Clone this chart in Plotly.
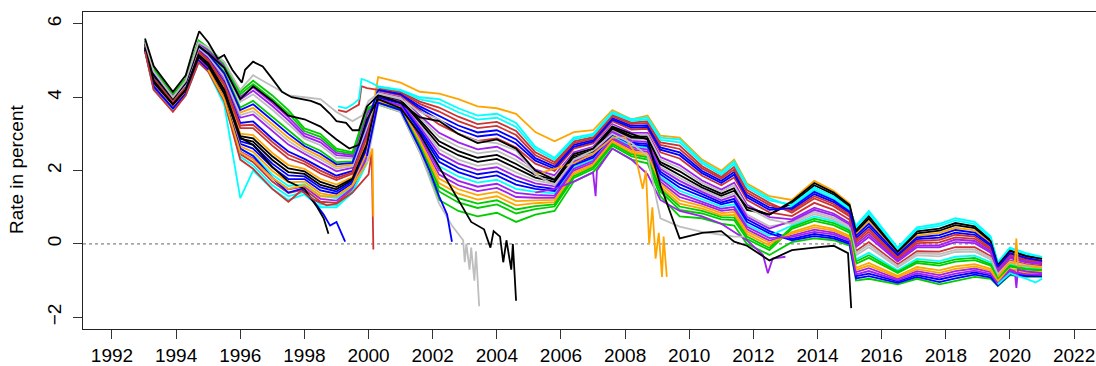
import plotly.graph_objects as go

# ---- colours (R-style palette used for the yield lines) ----
BLACK = "#000000"
RED = "#CD3333"
GREEN = "#00CD00"
BLUE = "#0000FF"
CYAN = "#00FFFF"
PURPLE = "#A020F0"
ORANGE = "#FFA500"
GRAY = "#BEBEBE"

# ---- common date grid for the long-running series (decimal years) ----
years = [1993.03, 1993.3, 1993.9, 1994.3, 1994.7, 1995.0, 1995.5, 1996.0, 1996.4, 1997.0,
         1997.5, 1998.0, 1998.5, 1999.0, 1999.5, 1999.95, 2000.3, 2001.0, 2001.6, 2002.2,
         2002.8, 2003.4, 2004.0, 2004.6, 2005.2, 2005.8, 2006.4, 2007.0, 2007.6, 2008.2,
         2008.7, 2009.1, 2009.7, 2010.4, 2011.0, 2011.4, 2011.8, 2012.5, 2013.2, 2013.9,
         2014.5, 2015.0, 2015.2, 2015.6, 2016.5, 2017.1, 2017.8, 2018.3, 2018.9, 2019.4,
         2019.62, 2020.0, 2020.5, 2021.0]

s01_orange = [5.37, 4.43, 3.82, 4.22, 5.18, 4.95, 4.25, 3.01, 2.97, 2.48, 2.15, 2.05, 1.77, 1.62, 1.82, 2.78,
              4.55, 4.40, 4.15, 4.10, 3.95, 3.75, 3.70, 3.55, 3.05, 2.80, 3.05, 3.10, 3.65, 3.40, 3.50, 2.95,
              2.90, 2.30, 2.00, 2.30, 1.65, 1.30,
              1.20, 1.72, 1.45, 1.10,
              0.27, 0.62, -0.25, 0.23, 0.30, 0.44, 0.37, 0.02, -0.60, -0.22, -0.35, -0.43]
s02_cyan = [5.25, 4.20, 3.65, 4.05, 4.95, 4.70, 3.80, 1.25, 2.00, 1.50, 1.20, 1.35, 1.00, 1.00, 1.40, 2.20,
            4.30, 4.20, 4.00, 3.95, 3.70, 3.50, 3.55, 3.30, 2.65, 2.35, 2.90, 3.00, 3.60, 3.40, 3.45, 2.90,
            2.85, 2.25, 1.95, 2.25, 1.60, 1.25,
            1.02, 1.48, 1.24, 0.92,
            0.50, 0.90, -0.10, 0.45, 0.55, 0.70, 0.60, 0.20, -0.50, -0.10, -0.25, -0.35]
s03_red = [5.27, 4.25, 3.68, 4.08, 5.00, 4.75, 3.89, 2.45, 2.23, 1.70, 1.39, 1.49, 1.15, 1.12, 1.48, 2.32,
           4.26, 4.15, 3.88, 3.72, 3.47, 3.27, 3.33, 3.08, 2.50, 2.23, 2.80, 2.91, 3.52, 3.31, 3.35, 2.77,
           2.68, 2.12, 1.83, 2.10, 1.47, 1.12,
           0.85, 1.24, 1.03, 0.75,
           0.04, 0.33, -0.41, 0.02, 0.04, 0.18, 0.14, -0.15, -0.70, -0.33, -0.45, -0.52]
s04_blue = [5.32, 4.34, 3.75, 4.15, 5.09, 4.85, 4.07, 2.73, 2.60, 2.09, 1.77, 1.77, 1.46, 1.37, 1.65, 2.55,
            4.22, 4.10, 3.75, 3.49, 3.23, 3.04, 3.10, 2.85, 2.34, 2.11, 2.70, 2.83, 3.43, 3.22, 3.24, 2.63,
            2.50, 1.99, 1.72, 1.96, 1.33, 0.99,
            0.94, 1.36, 1.14, 0.84,
            0.16, 0.47, -0.33, 0.13, 0.17, 0.31, 0.25, -0.06, -0.65, -0.27, -0.40, -0.48]
s05_purple = [5.44, 4.57, 3.93, 4.33, 5.32, 5.10, 4.51, 3.44, 3.53, 3.07, 2.71, 2.46, 2.23, 1.98, 2.08, 3.13,
              4.13, 4.00, 3.50, 3.03, 2.77, 2.58, 2.65, 2.40, 2.03, 1.87, 2.50, 2.65, 3.27, 3.03, 3.03, 2.37,
              2.15, 1.73, 1.48, 1.67, 1.07, 0.73,
              0.67, 0.99, 0.83, 0.57,
              -0.08, 0.19, -0.48, -0.09, -0.09, 0.05, 0.02, -0.24, -0.75, -0.39, -0.50, -0.56]
s06_green = [5.55, 4.80, 4.10, 4.50, 5.55, 5.35, 4.95, 4.15, 4.45, 4.05, 3.65, 3.15, 3.00, 2.60, 2.50, 3.70,
             3.84, 3.65, 2.63, 1.43, 1.13, 0.98, 1.08, 0.83, 0.95, 1.02, 1.80, 2.04, 2.68, 2.39, 2.30, 1.43,
             0.93, 0.83, 0.67, 0.65, 0.13, -0.17,
             0.41, 0.63, 0.51, 0.31,
             -0.54, -0.38, -0.79, -0.52, -0.59, -0.48, -0.44, -0.59, -0.95, -0.62, -0.70, -0.73]
s07_gray = [5.50, 4.71, 4.03, 4.43, 5.46, 5.25, 4.77, 3.87, 4.08, 3.66, 3.27, 2.87, 2.69, 2.35, 2.33, 3.47,
            4.05, 3.90, 3.25, 2.58, 2.30, 2.13, 2.20, 1.95, 1.73, 1.63, 2.30, 2.48, 3.10, 2.85, 2.83, 2.10,
            1.80, 1.48, 1.25, 1.38, 0.80, 0.48,
            0.58, 0.87, 0.72, 0.48,
            -0.31, -0.09, -0.64, -0.31, -0.34, -0.22, -0.21, -0.42, -0.85, -0.50, -0.60, -0.65]
s08_black = [5.34, 4.39, 3.79, 4.19, 5.14, 4.90, 4.16, 2.87, 2.79, 2.29, 1.96, 1.91, 1.61, 1.49, 1.74, 2.67,
             4.09, 3.95, 3.38, 2.80, 2.53, 2.35, 2.43, 2.18, 1.88, 1.75, 2.40, 2.56, 3.18, 2.94, 2.93, 2.23,
             1.98, 1.60, 1.37, 1.52, 0.93, 0.80,
             1.11, 1.60, 1.35, 1.01,
             0.39, 0.76, -0.18, 0.34, 0.42, 0.57, 0.48, 0.11, -0.55, -0.16, -0.30, -0.39]
s09_red = [5.39, 4.48, 3.86, 4.26, 5.23, 5.00, 4.33, 3.16, 3.16, 2.68, 2.33, 2.18, 1.92, 1.74, 1.91, 2.90,
           4.18, 4.05, 3.63, 3.26, 3.00, 2.81, 2.88, 2.63, 2.19, 1.99, 2.60, 2.74, 3.35, 3.12, 3.14, 2.50,
           2.33, 1.86, 1.60, 1.81, 1.20, 0.86,
           0.76, 1.12, 0.93, 0.66,
           -0.19, 0.05, -0.56, -0.20, -0.21, -0.09, -0.09, -0.33, -0.80, -0.45, -0.55, -0.60]
s10_blue = [5.41, 4.52, 3.89, 4.29, 5.27, 5.05, 4.42, 3.30, 3.34, 2.87, 2.52, 2.32, 2.08, 1.86, 1.99, 3.01,
            4.01, 3.85, 3.13, 2.35, 2.07, 1.90, 1.98, 1.73, 1.57, 1.50, 2.20, 2.39, 3.02, 2.76, 2.72, 1.97,
            1.63, 1.35, 1.13, 1.23, 0.67, 0.35,
            0.14, 0.27, 0.20, 0.04,
            -0.88, -0.81, -1.02, -0.85, -0.97, -0.87, -0.78, -0.86, -1.10, -0.79, -0.85, -0.86]
s11_purple = [5.53, 4.75, 4.07, 4.47, 5.50, 5.30, 4.86, 4.01, 4.27, 3.85, 3.46, 3.01, 2.85, 2.48, 2.42, 3.59,
              3.93, 3.75, 2.88, 1.89, 1.60, 1.44, 1.53, 1.28, 1.26, 1.26, 2.00, 2.21, 2.85, 2.58, 2.51, 1.70,
              1.28, 1.09, 0.90, 0.94, 0.40, 0.09,
              0.23, 0.39, 0.31, 0.13,
              -0.77, -0.66, -0.95, -0.74, -0.85, -0.74, -0.67, -0.77, -1.05, -0.73, -0.80, -0.82]
s12_green = [5.48, 4.66, 4.00, 4.40, 5.41, 5.20, 4.69, 3.72, 3.90, 3.46, 3.09, 2.74, 2.54, 2.23, 2.25, 3.36,
             3.80, 3.60, 2.50, 1.20, 0.90, 0.75, 0.85, 0.60, 0.80, 0.90, 1.70, 1.95, 2.60, 2.30, 2.20, 1.30,
             0.75, 0.70, 0.55, 0.50, 0.00, -0.30,
             0.05, 0.15, 0.10, -0.05,
             -1.00, -0.95, -1.10, -0.95, -1.10, -1.00, -0.90, -0.95, -1.15, -0.85, -0.90, -0.90]
s13_cyan = [5.30, 4.29, 3.72, 4.12, 5.04, 4.80, 3.98, 2.59, 2.42, 1.89, 1.58, 1.63, 1.31, 1.25, 1.57, 2.44,
            3.97, 3.80, 3.00, 2.12, 1.84, 1.67, 1.75, 1.50, 1.42, 1.38, 2.10, 2.30, 2.93, 2.67, 2.62, 1.83,
            1.45, 1.22, 1.02, 1.08, 0.53, 0.22,
            0.50, 0.75, 0.62, 0.40,
            -0.42, -0.24, -0.72, -0.41, -0.47, -0.35, -0.32, -0.50, -0.90, -0.56, -0.65, -0.69]
s14_orange = [5.46, 4.62, 3.96, 4.36, 5.37, 5.15, 4.60, 3.58, 3.71, 3.27, 2.90, 2.60, 2.38, 2.11, 2.16, 3.24,
              3.88, 3.70, 2.75, 1.66, 1.37, 1.21, 1.30, 1.05, 1.11, 1.14, 1.90, 2.13, 2.77, 2.48, 2.41, 1.57,
              1.10, 0.96, 0.78, 0.79, 0.27, -0.04,
              0.32, 0.51, 0.41, 0.22,
              -0.65, -0.52, -0.87, -0.63, -0.72, -0.61, -0.55, -0.68, -1.00, -0.68, -0.75, -0.77]
s15_red = [5.40, 4.50, 3.88, 4.28, 5.25, 5.03, 4.38, 3.23, 3.25, 2.78, 2.43, 2.25, 2.00, 1.80, 1.95, 2.96,
           4.24, 4.13, 3.82, 3.61, 3.35, 3.16, 3.22, 2.97, 2.42, 2.17, 2.75, 2.87, 3.48, 3.27, 3.30, 2.70,
           2.59, 2.06, 1.78, 2.03, 1.40, 1.06,
           0.90, 1.30, 1.09, 0.80,
           0.10, 0.40, -0.37, 0.08, 0.11, 0.25, 0.20, -0.11, -0.68, -0.30, -0.43, -0.50]
s16_purple = [5.52, 4.73, 4.05, 4.45, 5.48, 5.28, 4.82, 3.94, 4.18, 3.76, 3.37, 2.94, 2.77, 2.42, 2.38, 3.53,
              4.03, 3.88, 3.19, 2.47, 2.19, 2.02, 2.09, 1.84, 1.65, 1.57, 2.25, 2.44, 3.06, 2.81, 2.78, 2.04,
              1.72, 1.42, 1.19, 1.31, 0.74, 0.42,
              0.63, 0.93, 0.78, 0.53,
              -0.02, 0.26, -0.45, -0.04, -0.03, 0.12, 0.08, -0.20, -0.73, -0.36, -0.48, -0.54]
s17_gray = [5.45, 4.60, 3.95, 4.35, 5.35, 5.13, 4.56, 3.51, 3.62, 3.17, 2.81, 2.53, 2.31, 2.05, 2.12, 3.19,
            4.11, 3.98, 3.44, 2.92, 2.65, 2.47, 2.54, 2.29, 1.96, 1.81, 2.45, 2.61, 3.23, 2.99, 2.98, 2.30,
            2.07, 1.67, 1.43, 1.60, 1.00, 0.67,
            0.54, 0.81, 0.67, 0.44,
            -0.25, -0.02, -0.60, -0.26, -0.28, -0.16, -0.15, -0.38, -0.83, -0.48, -0.58, -0.63]
s18_blue = [5.33, 4.37, 3.77, 4.17, 5.12, 4.88, 4.12, 2.80, 2.70, 2.19, 1.87, 1.84, 1.54, 1.43, 1.70, 2.61,
            3.99, 3.83, 3.07, 2.24, 1.96, 1.79, 1.87, 1.62, 1.50, 1.44, 2.15, 2.35, 2.98, 2.72, 2.67, 1.90,
            1.54, 1.29, 1.08, 1.16, 0.60, 0.29,
            0.10, 0.21, 0.15, 0.00,
            -0.94, -0.88, -1.06, -0.90, -1.04, -0.94, -0.84, -0.91, -1.13, -0.82, -0.88, -0.88]
s19_green = [5.54, 4.78, 4.09, 4.49, 5.53, 5.33, 4.91, 4.08, 4.36, 3.95, 3.56, 3.08, 2.92, 2.54, 2.46, 3.65,
             3.86, 3.68, 2.69, 1.55, 1.25, 1.10, 1.19, 0.94, 1.03, 1.08, 1.85, 2.09, 2.73, 2.44, 2.36, 1.50,
             1.02, 0.90, 0.73, 0.72, 0.20, -0.11,
             0.46, 0.69, 0.57, 0.36,
             -0.48, -0.31, -0.76, -0.47, -0.53, -0.42, -0.38, -0.55, -0.93, -0.59, -0.68, -0.71]
s20_orange = [5.31, 4.32, 3.74, 4.14, 5.07, 4.83, 4.03, 2.66, 2.51, 1.99, 1.68, 1.70, 1.38, 1.31, 1.61, 2.50,
              3.90, 3.73, 2.82, 1.78, 1.49, 1.33, 1.42, 1.17, 1.19, 1.20, 1.95, 2.17, 2.81, 2.53, 2.46, 1.64,
              1.19, 1.03, 0.84, 0.87, 0.34, 0.03,
              0.28, 0.45, 0.36, 0.18,
              -0.71, -0.59, -0.91, -0.69, -0.79, -0.68, -0.61, -0.73, -1.03, -0.71, -0.78, -0.80]
s21_cyan = [5.26, 4.23, 3.67, 4.07, 4.98, 4.73, 3.85, 2.38, 2.14, 1.60, 1.30, 1.42, 1.08, 1.06, 1.44, 2.26,
            4.28, 4.18, 3.94, 3.84, 3.59, 3.39, 3.44, 3.19, 2.58, 2.29, 2.85, 2.96, 3.56, 3.36, 3.40, 2.84,
            2.77, 2.19, 1.89, 2.18, 1.54, 1.19,
            1.07, 1.54, 1.30, 0.97,
            0.45, 0.83, -0.14, 0.40, 0.49, 0.64, 0.54, 0.16, -0.53, -0.13, -0.28, -0.37]
s22_black = [5.36, 4.41, 3.81, 4.21, 5.16, 4.93, 4.21, 2.94, 2.88, 2.39, 2.06, 1.98, 1.69, 1.55, 1.78, 2.73,
             4.07, 3.93, 3.32, 2.69, 2.42, 2.24, 2.32, 2.07, 1.81, 1.69, 2.35, 2.52, 3.14, 2.90, 2.88, 2.17,
             1.89, 1.54, 1.31, 1.45, 1.00, 0.80,
             1.16, 1.66, 1.40, 1.06,
             0.33, 0.69, -0.22, 0.29, 0.36, 0.51, 0.43, 0.07, -0.58, -0.19, -0.33, -0.41]
s23_purple = [5.29, 4.27, 3.70, 4.10, 5.02, 4.78, 3.94, 2.52, 2.33, 1.80, 1.49, 1.56, 1.23, 1.18, 1.53, 2.38,
              3.95, 3.78, 2.94, 2.01, 1.72, 1.56, 1.64, 1.39, 1.34, 1.32, 2.05, 2.26, 2.89, 2.63, 2.57, 1.77,
              1.37, 1.16, 0.96, 1.01, 0.47, 0.16,
              0.19, 0.33, 0.26, 0.09,
              -0.83, -0.74, -0.99, -0.80, -0.91, -0.81, -0.73, -0.82, -1.08, -0.76, -0.83, -0.84]
s24_blue = [5.47, 4.64, 3.98, 4.38, 5.39, 5.18, 4.65, 3.65, 3.81, 3.37, 3.00, 2.67, 2.46, 2.17, 2.21, 3.30,
            4.20, 4.08, 3.69, 3.38, 3.12, 2.93, 2.99, 2.74, 2.27, 2.05, 2.65, 2.79, 3.39, 3.17, 3.19, 2.57,
            2.42, 1.93, 1.66, 1.89, 1.27, 0.93,
            0.98, 1.42, 1.19, 0.88,
            0.22, 0.55, -0.29, 0.18, 0.24, 0.38, 0.31, -0.02, -0.63, -0.25, -0.38, -0.46]

# ---- series with their own date ranges ----
long_black_t = [1993.03, 1993.3, 1993.9, 1994.3, 1994.55, 1994.72, 1995.0, 1995.3, 1995.5, 1995.75,
                1996.05, 1996.15, 1996.4, 1996.7, 1997.0, 1997.3, 1997.6, 1997.9, 1998.2, 1998.5,
                1998.8, 1999.0, 1999.3, 1999.5, 1999.7, 1999.95, 2000.3, 2001.0, 2001.6, 2002.2,
                2002.8, 2003.4, 2004.0, 2004.6, 2005.2, 2005.8, 2006.4, 2007.0, 2007.6, 2008.2,
                2008.7, 2009.1, 2009.7, 2010.4, 2011.0, 2011.4, 2011.8, 2012.5, 2013.2, 2013.9,
                2014.5, 2014.95, 2015.05]
long_black_y = [5.6, 4.85, 4.15, 4.6, 5.35, 5.8, 5.5, 5.05, 5.15, 4.75,
                4.4, 4.75, 4.97, 4.84, 4.5, 4.15, 4.0, 3.95, 3.9, 3.8,
                3.55, 3.35, 3.3, 3.1, 3.1, 3.75, 4.05, 3.85, 3.45, 3.35,
                3.0, 2.75, 2.85, 2.6, 2.0, 1.75, 2.45, 2.6, 3.2, 3.0,
                2.85, 1.6, 0.15, 0.3, 0.35, 0.06, -0.05, -0.45, -0.17, -0.1,
                -0.05, -0.25, -1.75]

long_gray_t = [1993.03, 1993.3, 1993.9, 1994.3, 1994.7, 1995.0, 1995.5, 1996.0, 1996.4, 1997.0,
               1997.5, 1998.0, 1998.5, 1999.0, 1999.5, 1999.8, 2000.0, 2000.3, 2001.0, 2001.6,
               2002.2, 2002.8, 2003.4, 2004.0, 2004.6, 2005.2, 2005.8, 2006.4, 2007.0, 2007.6,
               2008.2, 2008.7, 2009.1, 2009.7, 2010.4, 2011.0, 2011.4, 2011.7]
long_gray_y = [5.5, 4.7, 4.0, 4.45, 5.5, 5.35, 4.95, 4.2, 4.6, 4.3,
               4.05, 4.0, 3.95, 3.6, 3.35, 3.5, 3.9, 4.1, 3.95, 3.6,
               3.4, 3.0, 2.8, 2.75, 2.55, 1.9, 1.6, 2.3, 2.55, 3.0,
               2.75, 2.4, 0.7, 0.47, 0.33, 0.25, 0.2, 0.2]

mid_black_t = [1993.03, 1993.3, 1993.9, 1994.3, 1994.7, 1995.0, 1995.5, 1996.0, 1996.4, 1997.0,
               1997.5, 1998.0, 1998.5, 1999.0, 1999.4, 1999.7, 1999.95, 2000.3, 2001.0, 2001.6,
               2002.2, 2002.8, 2003.2, 2003.6, 2003.8, 2003.9, 2004.1, 2004.2, 2004.3, 2004.45,
               2004.5, 2004.6]
mid_black_y = [5.45, 4.6, 3.95, 4.4, 5.4, 5.2, 4.8, 3.95, 4.3, 3.9,
               3.5, 3.4, 3.2, 2.85, 2.6, 2.7, 3.4, 3.95, 3.7, 3.0,
               2.1, 1.2, 0.6, 0.4, -0.1, 0.35, 0.2, -0.5, 0.1, -0.7,
               0.0, -1.55]

short_blue_t = [1993.03, 1993.3, 1993.9, 1994.3, 1994.7, 1995.0, 1995.5, 1996.0, 1996.4, 1997.0,
                1997.5, 1997.9, 1998.3, 1998.6, 1998.8, 1999.0, 1999.15, 1999.27]
short_blue_y = [5.3, 4.3, 3.7, 4.1, 5.0, 4.75, 3.95, 2.6, 2.4, 1.8,
                1.4, 1.5, 1.15, 0.8, 0.5, 0.6, 0.3, 0.06]

short_black_t = [1993.03, 1993.3, 1993.9, 1994.3, 1994.7, 1995.0, 1995.5, 1996.0, 1996.4, 1997.0,
                 1997.5, 1998.0, 1998.4, 1998.6, 1998.75]
short_black_y = [5.3, 4.45, 3.8, 4.2, 5.1, 4.85, 4.1, 2.9, 2.7, 2.1,
                 1.7, 1.5, 1.0, 0.7, 0.28]

short_red_t = [1993.03, 1993.3, 1993.9, 1994.3, 1994.7, 1995.0, 1995.5, 1996.0, 1996.4, 1997.0,
               1997.5, 1997.9, 1998.3, 1998.7, 1999.0, 1999.5, 1999.8, 2000.0, 2000.1, 2000.15]
short_red_y = [5.25, 4.2, 3.6, 4.05, 4.95, 4.7, 3.9, 2.3, 2.05, 1.5,
               1.15, 1.45, 1.2, 1.05, 1.1, 1.4, 1.7, 1.9, 2.5, -0.15]

short_orange_t = [1995.0, 1995.5, 1996.0, 1996.4, 1997.0, 1997.5, 1998.0, 1998.5, 1999.0, 1999.5,
                  1999.8, 2000.0, 2000.12, 2000.15]
short_orange_y = [4.75, 3.95, 2.5, 2.3, 1.8, 1.5, 1.6, 1.3, 1.3, 1.6,
                  2.0, 2.3, 2.6, 0.75]

new_red_t = [1999.05, 1999.3, 1999.5, 1999.7, 1999.78, 1999.95, 2000.3]
new_red_y = [3.65, 3.6, 3.7, 3.8, 4.3, 4.25, 4.2]
new_cyan_t = [1999.05, 1999.3, 1999.5, 1999.7, 1999.78, 1999.95, 2000.3]
new_cyan_y = [3.75, 3.7, 3.8, 3.95, 4.5, 4.45, 4.3]

dip_gray_t = [1999.95, 2000.3, 2001.0, 2001.6, 2002.2, 2002.6, 2002.95, 2003.0, 2003.05, 2003.15,
              2003.2, 2003.3, 2003.35, 2003.45]
dip_gray_y = [2.2, 3.8, 3.6, 2.5, 1.1, 0.5, 0.1, -0.5, 0.0, -0.7,
              -0.1, -1.0, -0.2, -1.7]

dip_blue_t = [1999.95, 2000.3, 2001.0, 2001.6, 2001.9, 2002.2, 2002.45, 2002.6]
dip_blue_y = [2.4, 3.85, 3.65, 2.6, 2.0, 1.3, 0.8, 0.06]

low_purple_t = [2005.2, 2005.8, 2006.4, 2007.0, 2007.08, 2007.12, 2007.6, 2008.2, 2008.7, 2009.1,
                2009.7, 2010.4, 2011.0, 2011.8, 2012.3, 2012.45, 2012.6, 2013.0]
low_purple_y = [1.4, 1.5, 1.7, 1.95, 1.3, 2.0, 2.6, 2.3, 1.9, 1.2,
                0.9, 0.75, 0.55, 0.1, -0.3, -0.8, -0.4, -0.35]

dip_orange_t = [2005.2, 2006.4, 2007.0, 2007.6, 2008.0, 2008.3, 2008.55, 2008.65, 2008.75, 2008.85,
                2008.95, 2009.05, 2009.15, 2009.2, 2009.3]
dip_orange_y = [1.9, 2.2, 2.45, 2.9, 2.9, 2.5, 1.5, 2.0, 0.0, 1.0,
                -0.4, 0.3, -0.9, 0.2, -0.9]

late_orange_t = [2019.62, 2020.0, 2020.15, 2020.2, 2020.25, 2020.5, 2021.0]
late_orange_y = [-0.9, -0.5, -0.55, 0.15, -0.6, -0.6, -0.65]
late_purple_t = [2019.62, 2020.0, 2020.15, 2020.2, 2020.25, 2020.5, 2021.0]
late_purple_y = [-1.1, -0.7, -0.75, -1.2, -0.7, -0.75, -0.8]
late_cyan_t = [2019.62, 2020.0, 2020.5, 2020.8, 2021.0]
late_cyan_y = [-1.1, -0.8, -0.95, -1.05, -0.95]

# ---- axis ticks ----
x_tick_years = list(range(1992, 2023, 2))
y_tick_vals = [-2, 0, 2, 4, 6]
y_tick_text = ["\u22122", "0", "2", "4", "6"]

lines = [
    (years, s01_orange, ORANGE), (years, s02_cyan, CYAN), (years, s03_red, RED),
    (years, s04_blue, BLUE), (years, s05_purple, PURPLE), (years, s06_green, GREEN),
    (years, s07_gray, GRAY), (years, s08_black, BLACK), (years, s09_red, RED),
    (years, s10_blue, BLUE), (years, s11_purple, PURPLE), (years, s12_green, GREEN),
    (years, s13_cyan, CYAN), (years, s14_orange, ORANGE),
    (years, s15_red, RED), (years, s16_purple, PURPLE), (years, s17_gray, GRAY),
    (years, s18_blue, BLUE), (years, s19_green, GREEN), (years, s20_orange, ORANGE),
    (years, s21_cyan, CYAN), (years, s22_black, BLACK), (years, s23_purple, PURPLE),
    (years, s24_blue, BLUE),
    (short_blue_t, short_blue_y, BLUE), (short_black_t, short_black_y, BLACK),
    (short_red_t, short_red_y, RED), (short_orange_t, short_orange_y, ORANGE),
    (new_red_t, new_red_y, RED), (new_cyan_t, new_cyan_y, CYAN),
    (dip_gray_t, dip_gray_y, GRAY), (dip_blue_t, dip_blue_y, BLUE),
    (low_purple_t, low_purple_y, PURPLE), (dip_orange_t, dip_orange_y, ORANGE),
    (late_orange_t, late_orange_y, ORANGE), (late_purple_t, late_purple_y, PURPLE),
    (late_cyan_t, late_cyan_y, CYAN),
    (mid_black_t, mid_black_y, BLACK), (long_gray_t, long_gray_y, GRAY),
    (long_black_t, long_black_y, BLACK),
]

fig = go.Figure()
for xs, ys, col in lines:
    fig.add_trace(go.Scatter(x=xs, y=ys, mode="lines",
                             line=dict(color=col, width=1.8),
                             hoverinfo="skip", showlegend=False))

# dotted reference line at zero
fig.add_shape(type="line", xref="paper", x0=0, x1=1, yref="y", y0=0, y1=0,
              line=dict(color="#666666", width=1, dash="dot"), layer="below")

fig.add_annotation(text="Rate in percent", xref="paper", yref="paper",
                   x=-0.065, y=0.505, xanchor="center", yanchor="middle",
                   textangle=-90, showarrow=False,
                   font=dict(size=19, color="black"))

fig.update_layout(
    width=1096, height=366,
    margin=dict(l=83, r=0, t=12, b=35),
    paper_bgcolor="white", plot_bgcolor="white",
    font=dict(family="Liberation Sans, Arial, sans-serif", size=19, color="black"),
    xaxis=dict(range=[1991.096, 2022.683], tickmode="array", tickvals=x_tick_years,
               ticktext=[str(v) for v in x_tick_years], ticks="outside", ticklen=9,
               tickwidth=1, tickcolor="#333333", showline=True, linecolor="#222222",
               linewidth=1, mirror=True, showgrid=False, zeroline=False),
    yaxis=dict(range=[-2.32, 6.325], tickmode="array", tickvals=y_tick_vals,
               ticktext=y_tick_text, tickangle=-90, ticks="outside", ticklen=9,
               ticklabelstandoff=4,
               tickwidth=1, tickcolor="#333333", showline=True, linecolor="#222222",
               linewidth=1, mirror=False, showgrid=False, zeroline=False),
)

fig.write_html("out.html")
